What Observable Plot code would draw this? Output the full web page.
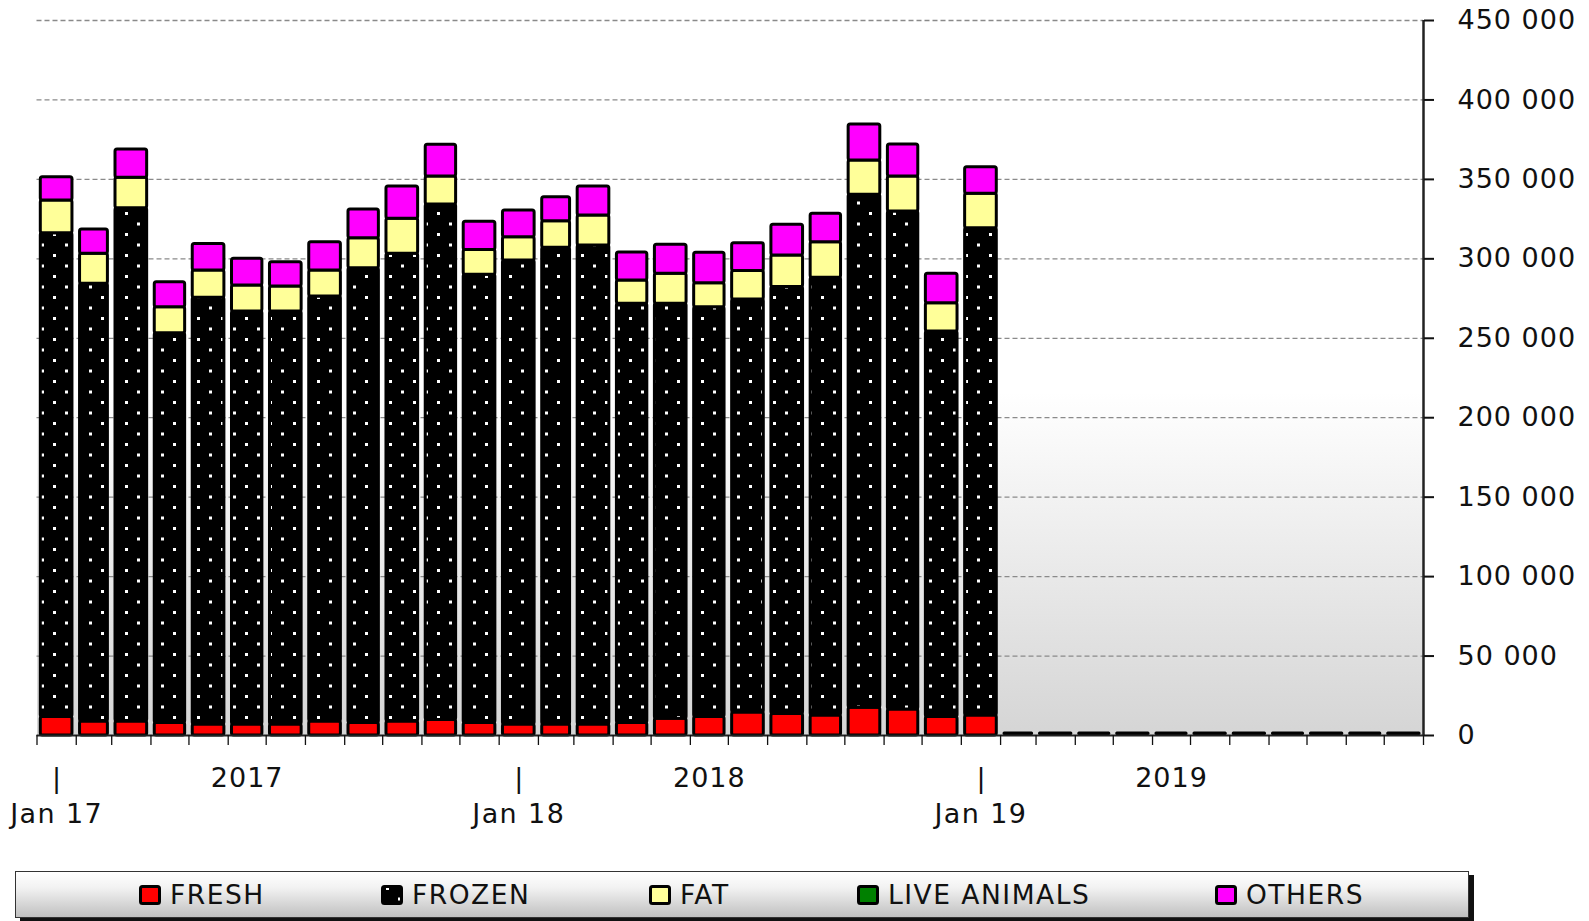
<!DOCTYPE html>
<html><head><meta charset="utf-8">
<script src="https://cdn.jsdelivr.net/npm/d3@7"></script>
<script src="https://cdn.jsdelivr.net/npm/@observablehq/plot@0.6"></script>
<style>
body{margin:0;background:#fff;font-family:"DejaVu Sans",sans-serif;}
#wrap{position:relative;width:1589px;height:921px;overflow:hidden;}
#chart{position:absolute;left:0;top:0;}
#chart g[aria-label="y-axis tick label"] text{letter-spacing:1px;}
#legend{position:absolute;left:15px;top:871px;width:1452px;height:45px;border:1.5px solid #333;background:linear-gradient(to bottom,#ffffff 0%,#f2f2f2 35%,#c0c0c0 100%);box-shadow:5px 4px 0 #111;}
.item{position:absolute;top:0;height:45px;display:flex;align-items:center;font-size:26.5px;letter-spacing:1.5px;color:#111;white-space:nowrap;}
.item svg{margin-right:9px;}
</style></head>
<body><div id="wrap">
<svg width="0" height="0" style="position:absolute"><defs>
<pattern id="frozenDots" patternUnits="userSpaceOnUse" width="24" height="21"><rect width="24" height="21" fill="#000"/><rect x="5" y="2" width="3" height="3" fill="#fff"/><rect x="17" y="12.5" width="3" height="3" fill="#fff"/></pattern>
<linearGradient id="bgGrad" x1="0" y1="0" x2="0" y2="1"><stop offset="0" stop-color="#fff"/><stop offset="0.52" stop-color="#fff"/><stop offset="1" stop-color="#d5d5d5"/></linearGradient>
</defs></svg>
<div id="chart"></div>
<div id="legend"></div>
</div>
<script>
const months = ["2017-01","2017-02","2017-03","2017-04","2017-05","2017-06","2017-07","2017-08","2017-09","2017-10","2017-11","2017-12",
"2018-01","2018-02","2018-03","2018-04","2018-05","2018-06","2018-07","2018-08","2018-09","2018-10","2018-11","2018-12",
"2019-01","2019-02","2019-03","2019-04","2019-05","2019-06","2019-07","2019-08","2019-09","2019-10","2019-11","2019-12"];
const fresh  = [11600,8800,8800,7800,6900,6900,6900,8800,7800,8800,9700,7800,6900,6900,6900,7800,10500,11600,14500,13500,12600,17400,16400,11600,12600,0,0,0,0,0,0,0,0,0,0,0];
const frozen = [304500,275500,323100,245400,268600,259900,259900,267500,286300,294400,324500,282200,292100,300000,301500,263900,261200,258000,259900,268700,275500,322900,313400,242700,306700,0,0,0,0,0,0,0,0,0,0,0];
const fat    = [20600,18900,19100,16400,17200,16400,15800,16400,18900,22000,17600,15500,14600,16800,18900,14700,18900,15100,17900,19900,22400,21600,22000,17800,21600,0,0,0,0,0,0,0,0,0,0,0];
const live   = [0,0,0,0,0,0,0,0,0,0,0,0,0,0,0,0,0,0,0,0,0,0,0,0,0,0,0,0,0,0,0,0,0,0,0,0];
const others = [14700,15300,17800,15700,16700,16800,15300,17800,18000,20300,20000,17800,16800,15100,18200,17600,18200,19100,17500,19300,17800,22700,20200,18500,16800,0,0,0,0,0,0,0,0,0,0,0];
const seriesNames = ["FRESH","FROZEN","FAT","LIVE ANIMALS","OTHERS"];
const seriesFills = ["#ff0000","url(#frozenDots)","#ffff99","#008000","#ff00ff"];
const legendLeft = [123,365,633,841,1199];
const yTicks = [0,50000,100000,150000,200000,250000,300000,350000,400000,450000];
const gridValues = [50000,100000,150000,200000,250000,300000,350000,400000,450000];
const janLabels = ["Jan 17","Jan 18","Jan 19"];
const yearLabels = ["2017","2018","2019"];

const parse = d3.utcParse("%Y-%m");
const seriesValues = [fresh, frozen, fat, live, others];
const long = [];
months.forEach((m, i) => {
  const date = parse(m), next = d3.utcMonth.offset(date, 1);
  seriesNames.forEach((s, k) => long.push({date, next, series: s, value: seriesValues[k][i]}));
});
const totals = months.map((m, i) => ({date: parse(m), next: d3.utcMonth.offset(parse(m), 1),
  total: seriesValues.reduce((a, arr) => a + arr[i], 0)}));
const empty = totals.filter(d => d.total === 0);
const start = parse(months[0]);
const end = d3.utcMonth.offset(parse(months[months.length - 1]), 1);
const monthEdges = d3.utcMonths(start, d3.utcDay.offset(end, 1));
const mid = (a) => new Date((+a + +d3.utcMonth.offset(a, 1)) / 2);
const janRows = janLabels.map((label, i) => ({label, x: mid(d3.utcYear.offset(start, i))}));
const yearRows = yearLabels.map((year, i) => ({year, x: mid(d3.utcMonth.offset(d3.utcYear.offset(start, i), 5))}));
const fmt = d => d3.format(",")(d).replace(/,/g, " ");

const chart = Plot.plot({
  width: 1589, height: 850,
  marginLeft: 36.5, marginRight: 166, marginTop: 20, marginBottom: 115,
  style: {fontFamily: "DejaVu Sans", fontSize: "27px", color: "#111", background: "transparent", overflow: "visible"},
  x: {type: "utc", domain: [start, end], axis: null},
  y: {domain: [0, 450000], axis: null},
  color: {domain: seriesNames, range: seriesFills},
  marks: [
    Plot.frame({fill: "url(#bgGrad)", stroke: "none"}),
    Plot.ruleY(gridValues, {stroke: "#8a8a8a", strokeWidth: 1.3, strokeDasharray: "5,3"}),
    Plot.rectY(long, {x1: "date", x2: "next", y: "value", fill: "series", stroke: "#000", strokeWidth: 3, rx: 2, insetLeft: 3.8, insetRight: 3.8}),
    Plot.rectY(empty, {x1: "date", x2: "next", y1: 0, y2: "total", insetTop: -3.5, fill: "#000", rx: 1.5, insetLeft: 2.5, insetRight: 2.5}),
    Plot.ruleY([0], {stroke: "#222", strokeWidth: 2}),
    Plot.ruleX([end], {stroke: "#222", strokeWidth: 2.5}),
    Plot.axisY({anchor: "right", ticks: yTicks, tickSize: 10, tickPadding: 24, tickFormat: fmt, fontSize: 27, strokeWidth: 2, label: null}),
    Plot.axisX({ticks: monthEdges, tickSize: 10, tickFormat: () => "", strokeWidth: 1.3, label: null}),
    Plot.text(janRows, {x: "x", text: () => "|", frameAnchor: "bottom", dy: 51, fontSize: 27}),
    Plot.text(janRows, {x: "x", text: "label", frameAnchor: "bottom", dy: 87, fontSize: 27}),
    Plot.text(yearRows, {x: "x", text: "year", frameAnchor: "bottom", dy: 51, fontSize: 27})
  ]
});
document.getElementById("chart").appendChild(chart);
chart.querySelectorAll("text").forEach(t => {
  const s = t.textContent;
  if (janLabels.includes(s)) t.style.letterSpacing = "1.4px";
  else if (yearLabels.includes(s)) t.style.letterSpacing = "1px";
});

const legend = document.getElementById("legend");
seriesNames.forEach((s, k) => {
  const item = document.createElement("div");
  item.className = "item";
  item.style.left = legendLeft[k] + "px";
  item.innerHTML = `<svg width="22" height="20"><rect x="1.5" y="1.5" width="19" height="17" rx="2" fill="${seriesFills[k]}" stroke="#000" stroke-width="3"/></svg><span>${s}</span>`;
  legend.appendChild(item);
});
</script>
</body></html>
